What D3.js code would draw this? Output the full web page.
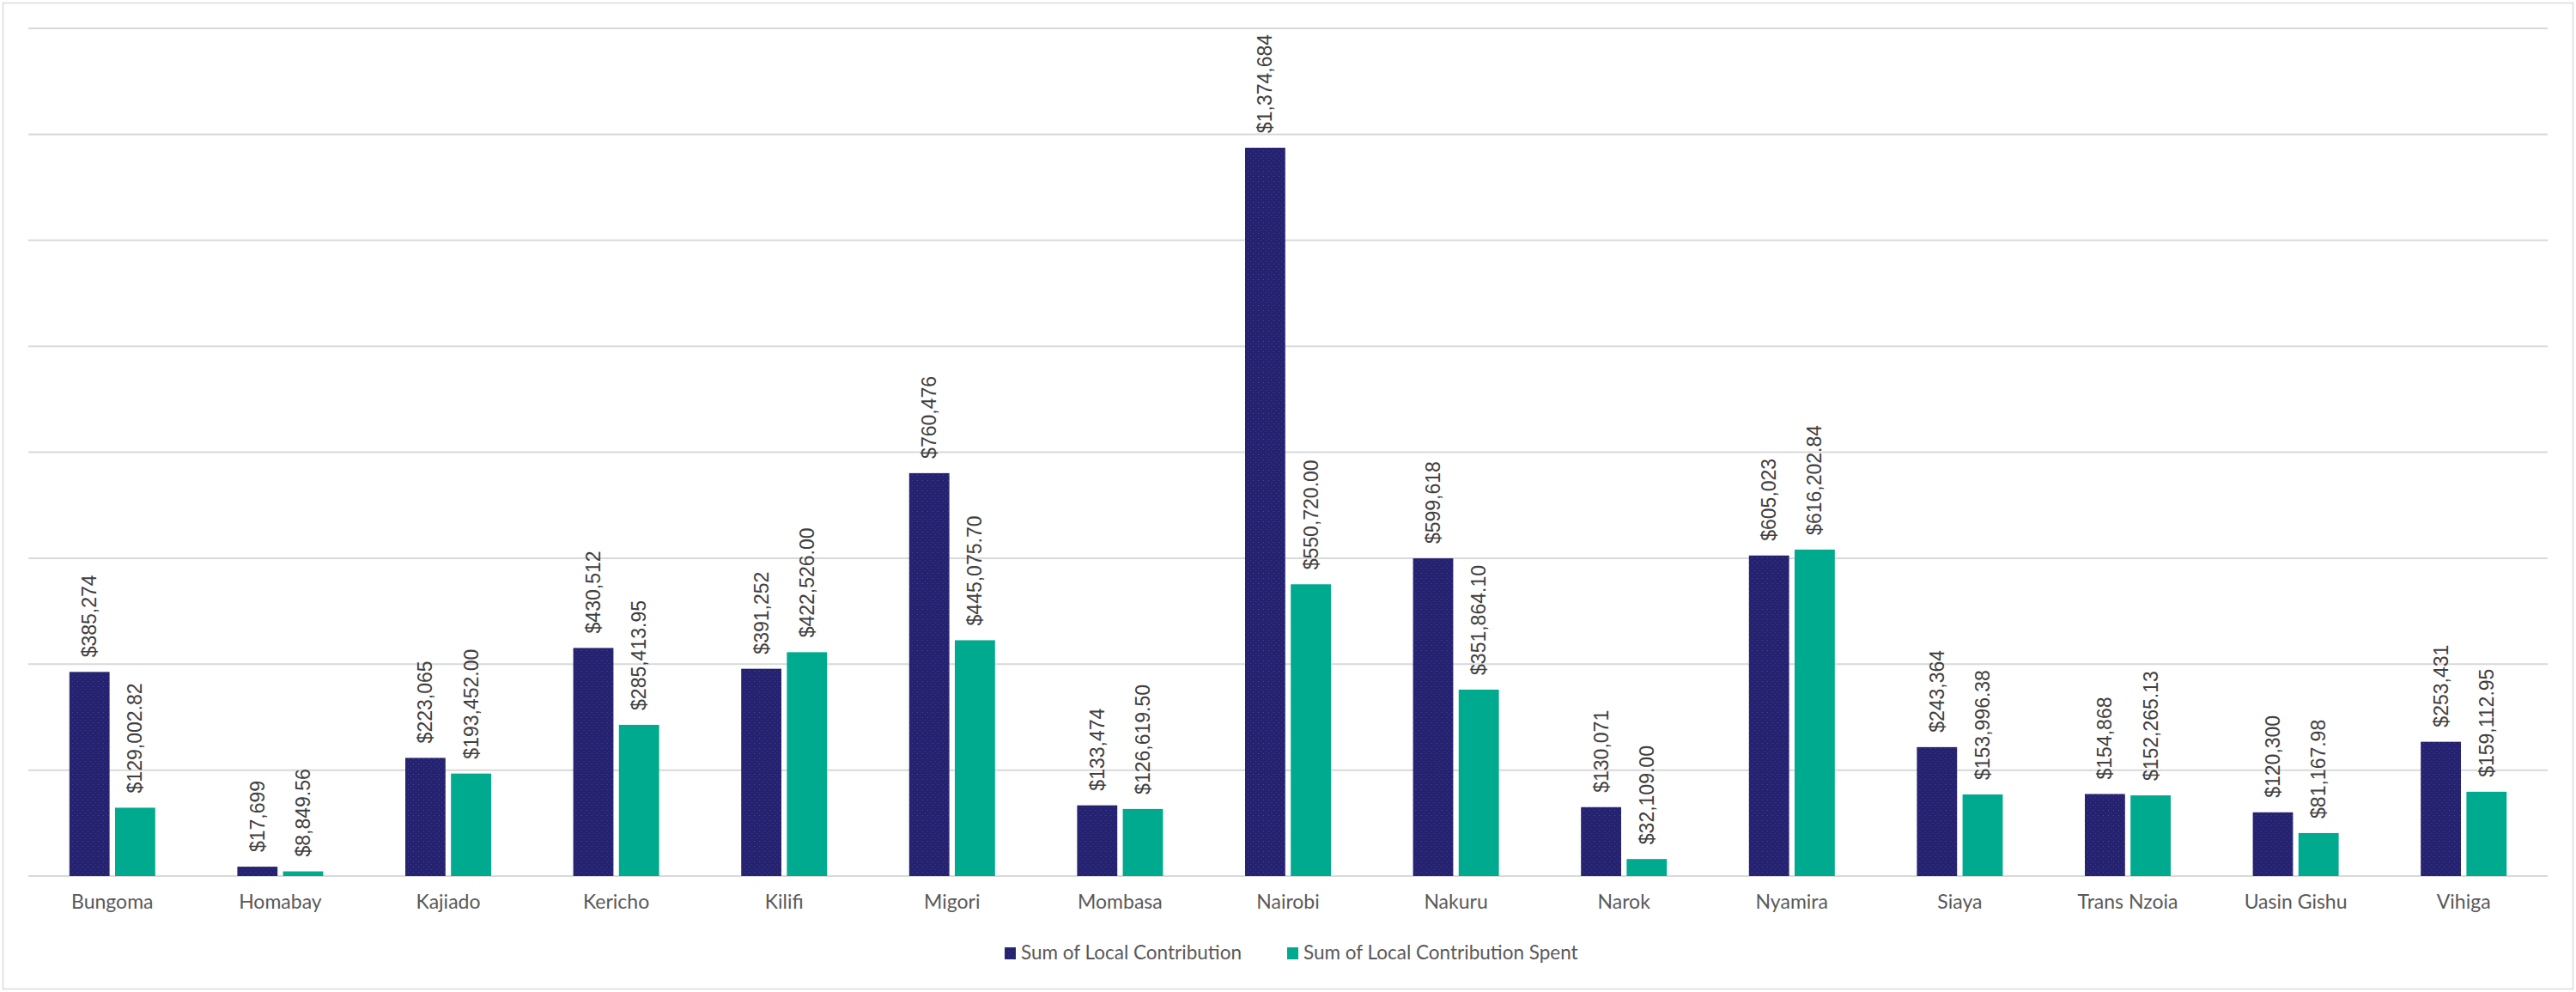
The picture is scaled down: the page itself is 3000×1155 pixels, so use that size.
<!DOCTYPE html>
<html>
<head>
<meta charset="utf-8">
<script src="https://cdn.jsdelivr.net/npm/d3@7"></script>
<style>
  body { margin: 0; background: #fff; }
  svg { display: block; }
</style>
</head>
<body>
<svg id="chart" width="3000" height="1155"></svg>
<script>
const counties = ["Bungoma", "Homabay", "Kajiado", "Kericho", "Kilifi", "Migori", "Mombasa",
  "Nairobi", "Nakuru", "Narok", "Nyamira", "Siaya", "Trans Nzoia", "Uasin Gishu", "Vihiga"];
const localContribution = [385274, 17699, 223065, 430512, 391252, 760476, 133474,
  1374684, 599618, 130071, 605023, 243364, 154868, 120300, 253431];
const localSpent = [129002.82, 8849.56, 193452.00, 285413.95, 422526.00, 445075.70, 126619.50,
  550720.00, 351864.10, 32109.00, 616202.84, 153996.38, 152265.13, 81167.98, 159112.95];
const seriesNames = ["Sum of Local Contribution", "Sum of Local Contribution Spent"];
const yTicks = [0, 200000, 400000, 600000, 800000, 1000000, 1200000, 1400000, 1600000];

const colors = ["#25226f", "#00aa8e"];
const fmtWhole = d3.format("$,.0f");
const fmtCents = d3.format("$,.2f");

const svg = d3.select("#chart");
const margin = { left: 33, right: 33, top: 33, bottom: 135 };
const width = 3000, height = 1155;

// outer frame
svg.append("rect")
  .attr("x", 3.5).attr("y", 3.5)
  .attr("width", width - 7).attr("height", height - 7)
  .attr("fill", "#fff").attr("stroke", "#d9d9d9").attr("stroke-width", 1.5);

// dotted texture on the dark bars
const defs = svg.append("defs");
const pat = defs.append("pattern")
  .attr("id", "dots").attr("patternUnits", "userSpaceOnUse")
  .attr("width", 6).attr("height", 6);
pat.append("rect").attr("width", 6).attr("height", 6).attr("fill", colors[0]);
pat.append("rect").attr("x", 1).attr("y", 1).attr("width", 1).attr("height", 1).attr("fill", "#4a47a0");
pat.append("rect").attr("x", 4).attr("y", 4).attr("width", 1).attr("height", 1).attr("fill", "#3d3a92");

const x = d3.scaleBand()
  .domain(counties)
  .range([margin.left, width - margin.right]);

const y = d3.scaleLinear()
  .domain([0, 1600000])
  .range([height - margin.bottom, margin.top]);

const barW = 44, barGap = 12;
const inner = d3.scaleBand()
  .domain([0, 1])
  .range([-(barW + barGap / 2), barW + barGap / 2])
  .paddingInner(barGap / (2 * barW + barGap));

// gridlines
svg.append("g")
  .selectAll("line")
  .data(yTicks)
  .join("line")
  .attr("x1", margin.left).attr("x2", width - margin.right)
  .attr("y1", d => y(d)).attr("y2", d => y(d))
  .attr("stroke", "#d9d9d9").attr("stroke-width", 2);

const rows = counties.map((c, i) => ({
  county: c,
  values: [
    { s: 0, v: localContribution[i], label: fmtWhole(localContribution[i]) },
    { s: 1, v: localSpent[i], label: fmtCents(localSpent[i]) }
  ]
}));

const groups = svg.append("g")
  .selectAll("g")
  .data(rows)
  .join("g")
  .attr("transform", d => `translate(${x(d.county) + x.bandwidth() / 2},0)`);

groups.selectAll("rect")
  .data(d => d.values)
  .join("rect")
  .attr("x", d => inner(d.s))
  .attr("width", inner.bandwidth())
  .attr("y", d => y(d.v))
  .attr("height", d => y(0) - y(d.v))
  .attr("fill", d => d.s === 0 ? "url(#dots)" : colors[1]);

groups.selectAll("text")
  .data(d => d.values)
  .join("text")
  .attr("transform", d => `translate(${inner(d.s) + inner.bandwidth() / 2},${y(d.v) - 17}) rotate(-90)`)
  .attr("dy", "0.35em")
  .attr("text-anchor", "start")
  .attr("font-family", "'Liberation Sans', Arial, sans-serif")
  .attr("font-size", 23)
  .attr("fill", "#404040")
  .text(d => d.label);

// category axis labels
svg.append("g")
  .selectAll("text")
  .data(counties)
  .join("text")
  .attr("x", d => x(d) + x.bandwidth() / 2)
  .attr("y", 1058)
  .attr("text-anchor", "middle")
  .attr("font-family", "Lato, 'Open Sans', sans-serif")
  .attr("font-size", 23)
  .attr("fill", "#595959")
  .text(d => d);

// legend
const legend = svg.append("g");
const legendX = [1170, 1499];
seriesNames.forEach((name, i) => {
  const g = legend.append("g").attr("transform", `translate(${legendX[i]},1103)`);
  g.append("rect")
    .attr("width", 13).attr("height", 14)
    .attr("fill", i === 0 ? "url(#dots)" : colors[1]);
  g.append("text")
    .attr("x", 19).attr("y", 14)
    .attr("font-family", "Lato, 'Open Sans', sans-serif")
    .attr("font-size", 22.5)
    .attr("fill", "#595959")
    .text(name);
});
</script>
</body>
</html>
